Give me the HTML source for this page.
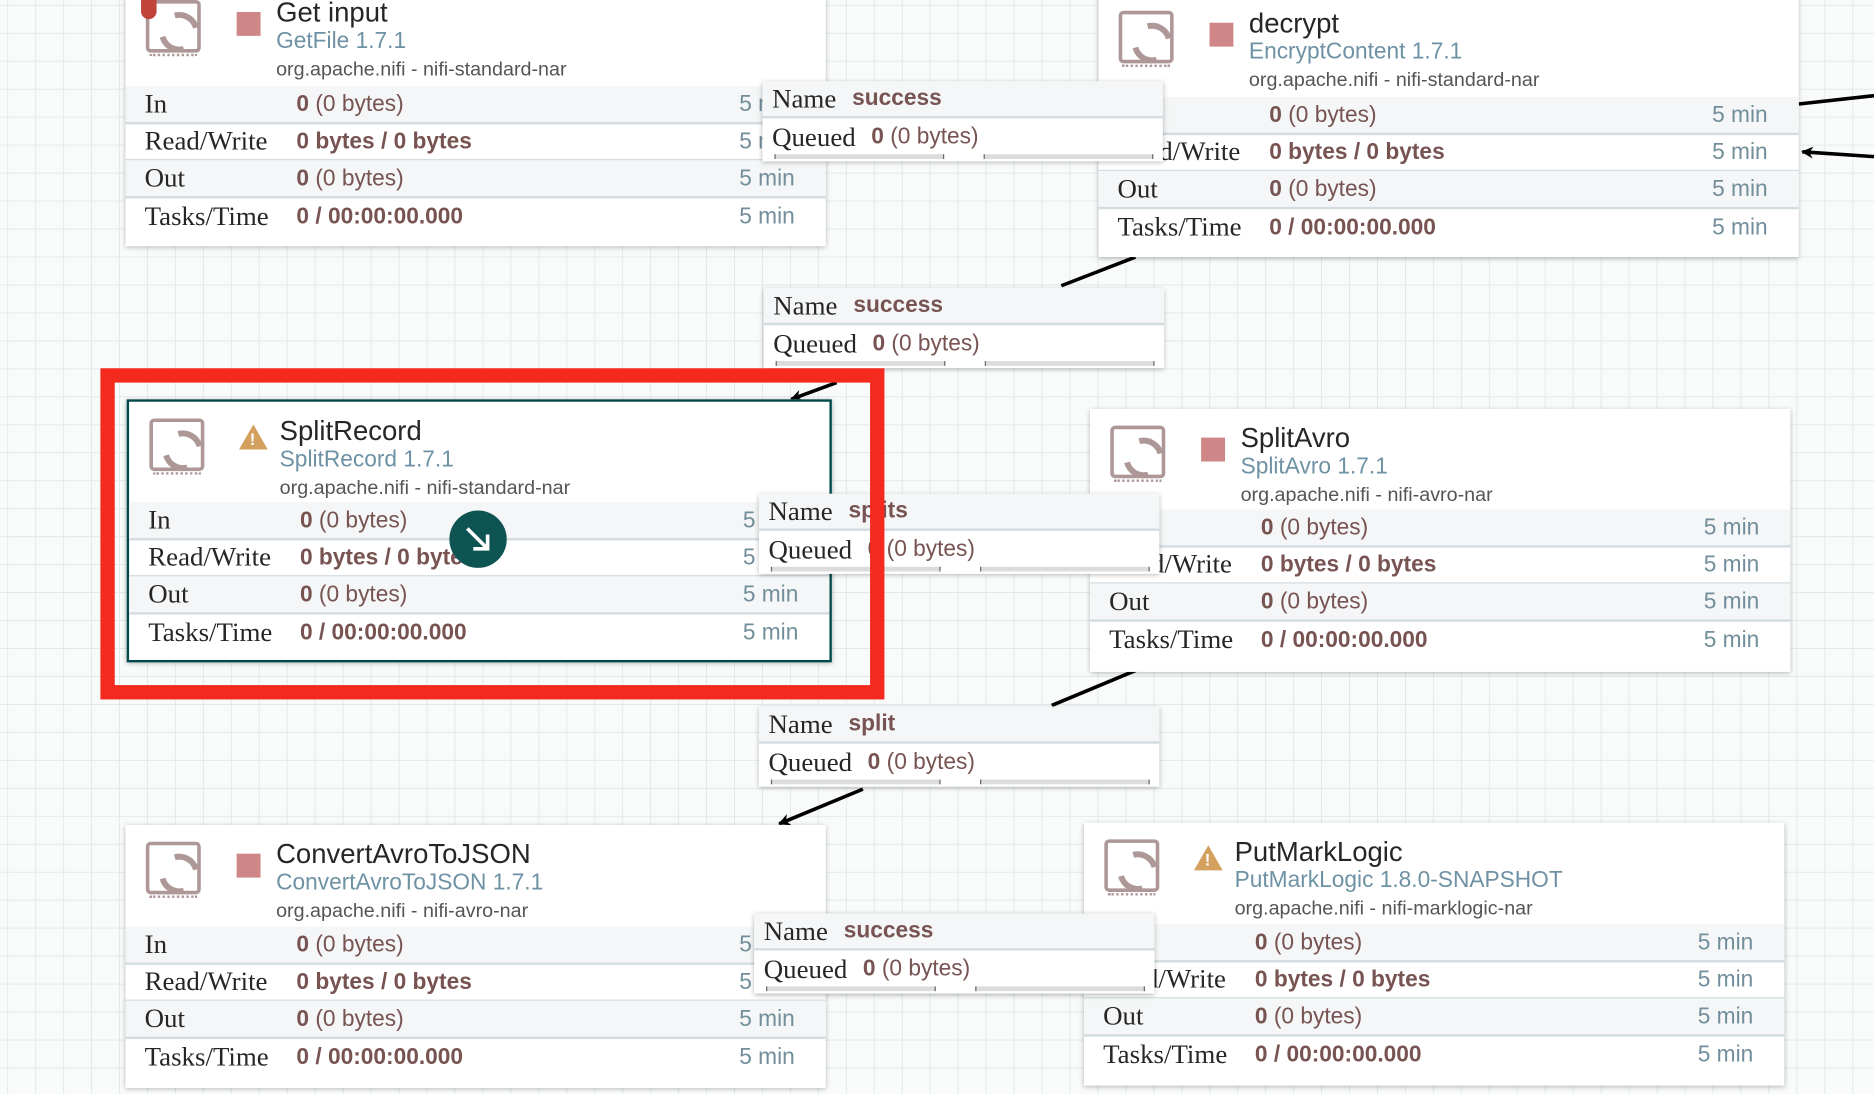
<!DOCTYPE html>
<html><head><meta charset="utf-8"><style>
html,body{margin:0;padding:0;width:1874px;height:1094px;overflow:hidden;background:#f9fbfb;}
#w{position:absolute;left:0;top:0;width:1568px;height:915px;transform:scale(1.19515,1.19563);transform-origin:0 0;
background-color:#f9fbfb;background-image:linear-gradient(#e3e9eb 1px,transparent 1px),linear-gradient(90deg,#e3e9eb 1px,transparent 1px);background-size:23.4px 23.4px;background-position:6px 4px;font-family:"Liberation Sans",sans-serif;}
.node{position:absolute;width:586px;height:220px;background:#fff;box-shadow:0 1px 4px rgba(0,0,0,.3);box-sizing:border-box;}
.sel{border:2px solid #004849;}
.icon{position:absolute;left:17px;top:14px;width:46px;height:44px;border:3px solid #ad9897;border-radius:4px;box-sizing:border-box;}
.icon:before{content:"";position:absolute;left:8px;top:7px;width:24px;height:24px;border:5px solid #ad9897;border-radius:50%;border-left-color:transparent;border-right-color:transparent;transform:rotate(30deg);box-sizing:content-box}
.icon:after{content:"";position:absolute;left:0px;bottom:-6px;width:40px;height:4px;border-bottom:2px dotted #ad9897;}
.stop{position:absolute;left:93px;top:24px;width:20px;height:20px;background:#cf8686;}
.warn{position:absolute;left:92px;top:19px;width:0;height:0;border-left:12px solid transparent;border-right:12px solid transparent;border-bottom:21px solid #d3a05e;}
.warn:after{content:"!";position:absolute;left:-3px;top:4px;color:#fff;font-weight:bold;font-size:14px;}
.title{position:absolute;left:126px;top:11px;font-size:23px;color:#262626;white-space:nowrap}
.type{position:absolute;left:126px;top:38px;font-size:19px;color:#6e92a4;white-space:nowrap}
.bundle{position:absolute;left:126px;top:63px;font-size:16.5px;color:#555;white-space:nowrap}
.row{position:absolute;left:0;right:0;height:30px;border-bottom:2px solid #d3dde1;}
.g{background:#f4f6f7;}
.lab{position:absolute;left:16px;top:2px;font-family:"Liberation Serif",serif;font-size:22.5px;color:#262626;white-space:nowrap}
.val{position:absolute;left:143px;top:5px;font-size:19px;color:#775351;white-space:nowrap}
.val b{font-weight:bold}
.t{position:absolute;right:26px;top:5px;font-size:19px;color:#728e9b;white-space:nowrap}
.conn{position:absolute;width:335px;height:67px;background:#fff;box-shadow:0 1px 4px rgba(0,0,0,.3);}
.conn .n{position:absolute;left:0;top:0;right:0;height:29px;background:#f4f6f7;border-bottom:2px solid #d3dde1;}
.conn .l1{position:absolute;left:8px;top:2px;font-family:"Liberation Serif",serif;font-size:22.5px;color:#262626}
.conn .v1{position:absolute;left:75px;top:4px;font-size:19px;font-weight:bold;color:#775351}
.conn .l2{position:absolute;left:8px;top:34px;font-family:"Liberation Serif",serif;font-size:22.5px;color:#262626}
.conn .v2{position:absolute;left:91px;top:36px;font-size:19px;color:#775351}
.conn .b1{position:absolute;left:10px;top:61px;width:140px;height:4px;background:#dcdcdc;border-left:1px solid #666;border-right:1px solid #666}
.conn .b2{position:absolute;left:185px;top:61px;width:140px;height:4px;background:#dcdcdc;border-left:1px solid #666;border-right:1px solid #666}
</style></head><body><div id="w">
<svg width="1568" height="915" style="position:absolute;left:0;top:0">
<defs><marker id="a" markerWidth="10" markerHeight="10" refX="9" refY="5" orient="auto" markerUnits="userSpaceOnUse"><path d="M0,0 L10,5 L0,10 L3,5z" fill="#000"/></marker></defs>
<g stroke="#000" stroke-width="3" fill="none">
<line x1="950" y1="215" x2="888" y2="239"/>
<line x1="700" y1="320" x2="662" y2="334" marker-end="url(#a)"/>
<line x1="952" y1="560" x2="880" y2="590"/>
<line x1="722" y1="660" x2="652" y2="689" marker-end="url(#a)"/>
<line x1="1568" y1="80" x2="1505" y2="87"/>
<line x1="1568" y1="131" x2="1508" y2="127" marker-end="url(#a)"/>
</g></svg>

<div class="node" style="left:105px;top:-14px">
<div class="icon"></div><div style="position:absolute;left:13px;top:14px;width:13px;height:16px;background:#c0443a;border-radius:0 0 7px 7px"></div>
<div class="stop"></div><div class="title">Get input</div><div class="type">GetFile 1.7.1</div><div class="bundle">org.apache.nifi - nifi-standard-nar</div>
<div class="row g" style="top:86px"><span class="lab">In</span><span class="val"><b>0</b> (0 bytes)</span><span class="t">5 min</span></div>
<div class="row" style="top:117px"><span class="lab">Read/Write</span><span class="val"><b>0 bytes / 0 bytes</b></span><span class="t">5 min</span></div>
<div class="row g" style="top:148px"><span class="lab">Out</span><span class="val"><b>0</b> (0 bytes)</span><span class="t">5 min</span></div>
<div class="row" style="top:180px;border:0"><span class="lab">Tasks/Time</span><span class="val"><b>0 / 00:00:00.000</b></span><span class="t">5 min</span></div>
</div>

<div class="node" style="left:919px;top:-5px">
<div class="icon"></div><div class="stop"></div><div class="title">decrypt</div><div class="type">EncryptContent 1.7.1</div><div class="bundle">org.apache.nifi - nifi-standard-nar</div>
<div class="row g" style="top:86px"><span class="lab">In</span><span class="val"><b>0</b> (0 bytes)</span><span class="t">5 min</span></div>
<div class="row" style="top:117px"><span class="lab">Read/Write</span><span class="val"><b>0 bytes / 0 bytes</b></span><span class="t">5 min</span></div>
<div class="row g" style="top:148px"><span class="lab">Out</span><span class="val"><b>0</b> (0 bytes)</span><span class="t">5 min</span></div>
<div class="row" style="top:180px;border:0"><span class="lab">Tasks/Time</span><span class="val"><b>0 / 00:00:00.000</b></span><span class="t">5 min</span></div>
</div>

<div class="node sel" style="left:106px;top:334px;width:590px">
<div class="icon"></div><div class="warn"></div><div class="title">SplitRecord</div><div class="type">SplitRecord 1.7.1</div><div class="bundle">org.apache.nifi - nifi-standard-nar</div>
<div class="row g" style="top:84px"><span class="lab">In</span><span class="val"><b>0</b> (0 bytes)</span><span class="t">5 min</span></div>
<div class="row" style="top:115px"><span class="lab">Read/Write</span><span class="val"><b>0 bytes / 0 bytes</b></span><span class="t">5 min</span></div>
<div class="row g" style="top:146px"><span class="lab">Out</span><span class="val"><b>0</b> (0 bytes)</span><span class="t">5 min</span></div>
<div class="row" style="top:178px;border:0"><span class="lab">Tasks/Time</span><span class="val"><b>0 / 00:00:00.000</b></span><span class="t">5 min</span></div>
</div>

<div class="node" style="left:912px;top:342px">
<div class="icon"></div><div class="stop"></div><div class="title">SplitAvro</div><div class="type">SplitAvro 1.7.1</div><div class="bundle">org.apache.nifi - nifi-avro-nar</div>
<div class="row g" style="top:84px"><span class="lab">In</span><span class="val"><b>0</b> (0 bytes)</span><span class="t">5 min</span></div>
<div class="row" style="top:115px"><span class="lab">Read/Write</span><span class="val"><b>0 bytes / 0 bytes</b></span><span class="t">5 min</span></div>
<div class="row g" style="top:146px"><span class="lab">Out</span><span class="val"><b>0</b> (0 bytes)</span><span class="t">5 min</span></div>
<div class="row" style="top:178px;border:0"><span class="lab">Tasks/Time</span><span class="val"><b>0 / 00:00:00.000</b></span><span class="t">5 min</span></div>
</div>

<div class="node" style="left:105px;top:690px">
<div class="icon"></div><div class="stop"></div><div class="title">ConvertAvroToJSON</div><div class="type">ConvertAvroToJSON 1.7.1</div><div class="bundle">org.apache.nifi - nifi-avro-nar</div>
<div class="row g" style="top:85px"><span class="lab">In</span><span class="val"><b>0</b> (0 bytes)</span><span class="t">5 min</span></div>
<div class="row" style="top:116px"><span class="lab">Read/Write</span><span class="val"><b>0 bytes / 0 bytes</b></span><span class="t">5 min</span></div>
<div class="row g" style="top:147px"><span class="lab">Out</span><span class="val"><b>0</b> (0 bytes)</span><span class="t">5 min</span></div>
<div class="row" style="top:179px;border:0"><span class="lab">Tasks/Time</span><span class="val"><b>0 / 00:00:00.000</b></span><span class="t">5 min</span></div>
</div>

<div class="node" style="left:907px;top:688px">
<div class="icon"></div><div class="warn"></div><div class="title">PutMarkLogic</div><div class="type">PutMarkLogic 1.8.0-SNAPSHOT</div><div class="bundle">org.apache.nifi - nifi-marklogic-nar</div>
<div class="row g" style="top:85px"><span class="lab">In</span><span class="val"><b>0</b> (0 bytes)</span><span class="t">5 min</span></div>
<div class="row" style="top:116px"><span class="lab">Read/Write</span><span class="val"><b>0 bytes / 0 bytes</b></span><span class="t">5 min</span></div>
<div class="row g" style="top:147px"><span class="lab">Out</span><span class="val"><b>0</b> (0 bytes)</span><span class="t">5 min</span></div>
<div class="row" style="top:179px;border:0"><span class="lab">Tasks/Time</span><span class="val"><b>0 / 00:00:00.000</b></span><span class="t">5 min</span></div>
</div>

<div class="conn" style="left:638px;top:68px"><div class="n"></div><span class="l1">Name</span><span class="v1">success</span><span class="l2">Queued</span><span class="v2"><b>0</b> (0 bytes)</span><div class="b1"></div><div class="b2"></div></div>
<div class="conn" style="left:639px;top:241px"><div class="n"></div><span class="l1">Name</span><span class="v1">success</span><span class="l2">Queued</span><span class="v2"><b>0</b> (0 bytes)</span><div class="b1"></div><div class="b2"></div></div>
<div class="conn" style="left:635px;top:413px"><div class="n"></div><span class="l1">Name</span><span class="v1">splits</span><span class="l2">Queued</span><span class="v2"><b>0</b> (0 bytes)</span><div class="b1"></div><div class="b2"></div></div>
<div class="conn" style="left:635px;top:591px"><div class="n"></div><span class="l1">Name</span><span class="v1">split</span><span class="l2">Queued</span><span class="v2"><b>0</b> (0 bytes)</span><div class="b1"></div><div class="b2"></div></div>
<div class="conn" style="left:631px;top:764px"><div class="n"></div><span class="l1">Name</span><span class="v1">success</span><span class="l2">Queued</span><span class="v2"><b>0</b> (0 bytes)</span><div class="b1"></div><div class="b2"></div></div>

<div style="position:absolute;left:84px;top:308px;width:656px;height:277px;border:12px solid #f52a1f;box-sizing:border-box"></div>
<div style="position:absolute;left:376px;top:427px;width:48px;height:48px;border-radius:50%;background:#0e5453"></div>
<svg width="48" height="48" style="position:absolute;left:376px;top:427px"><g stroke="#fff" stroke-width="3" fill="none"><line x1="15" y1="15" x2="31" y2="31"/><path d="M20 32 L32 32 L32 20" /></g></svg>
</div></body></html>
